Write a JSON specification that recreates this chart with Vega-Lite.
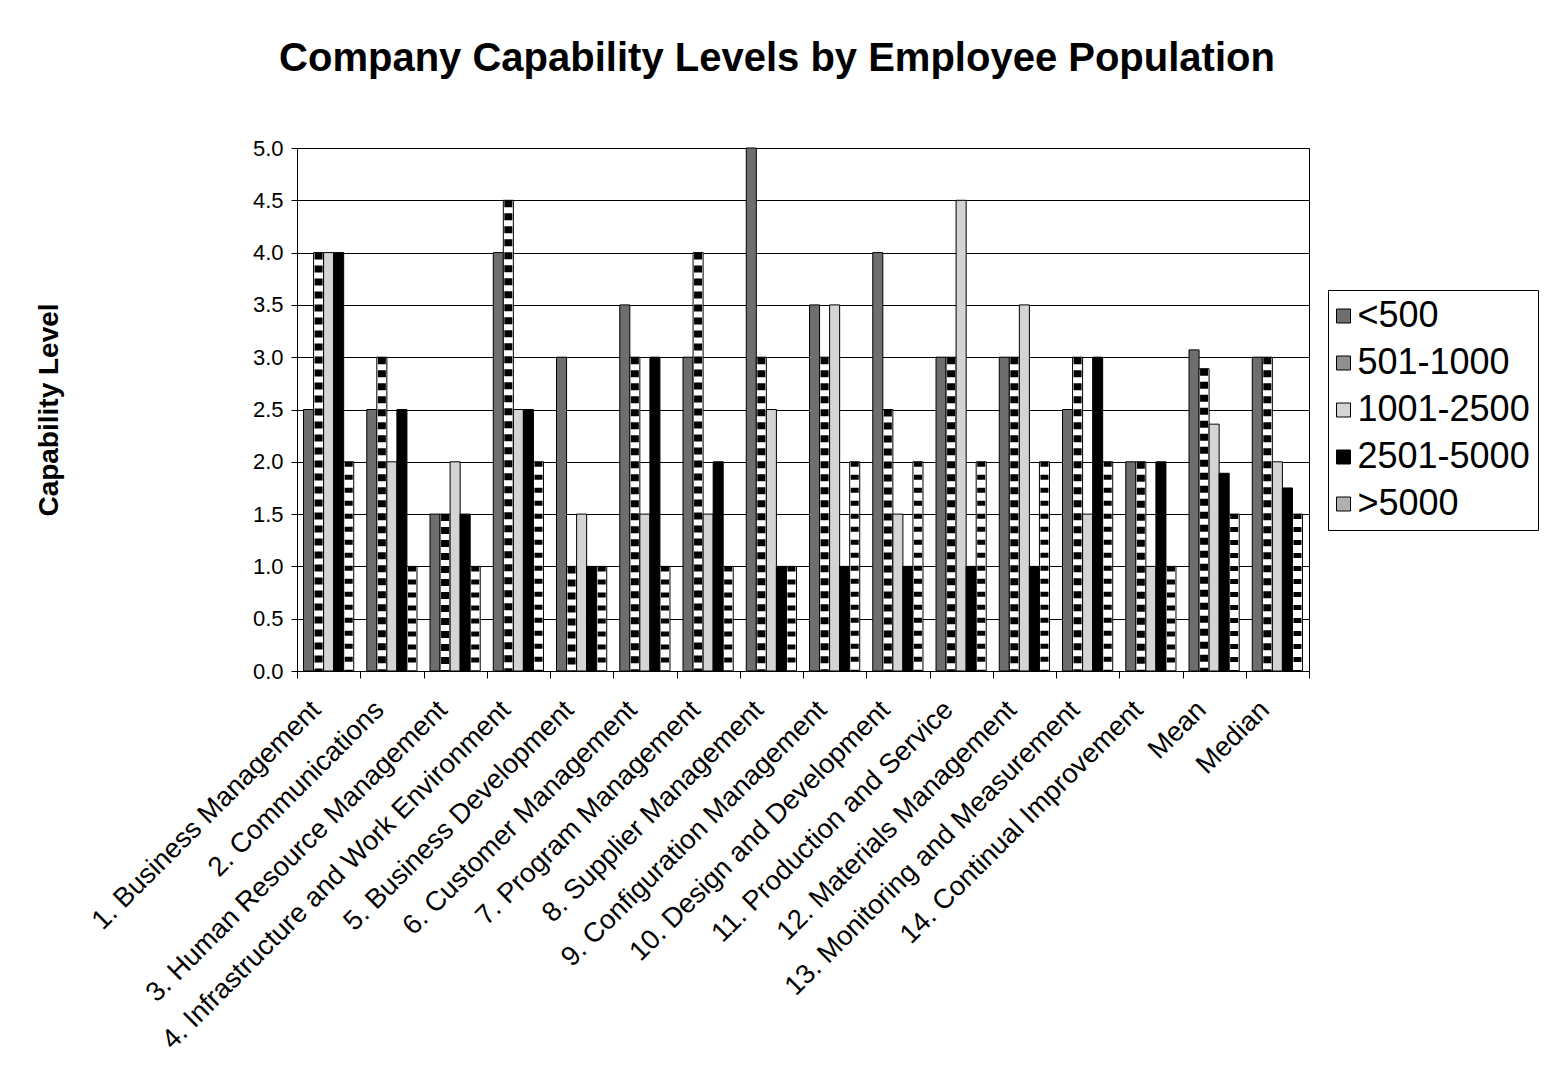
{
  "$schema": "https://vega.github.io/schema/vega-lite/v6.json",
  "width": 1012,
  "height": 523,
  "autosize": {"type": "none"},
  "padding": {"left": 297, "top": 148, "right": 243, "bottom": 401},
  "background": "white",
  "title": {
    "text": "Company Capability Levels by Employee Population",
    "font": "Liberation Sans",
    "fontSize": 40,
    "fontWeight": "bold",
    "color": "black",
    "anchor": "middle",
    "dx": -26,
    "offset": 58
  },
  "data": {
    "values": [
      {"area": "1. Business Management", "size": "<500", "level": 2.5},
      {"area": "1. Business Management", "size": "501-1000", "level": 4.0},
      {"area": "1. Business Management", "size": "1001-2500", "level": 4.0},
      {"area": "1. Business Management", "size": "2501-5000", "level": 4.0},
      {"area": "1. Business Management", "size": ">5000", "level": 2.0},
      {"area": "2. Communications", "size": "<500", "level": 2.5},
      {"area": "2. Communications", "size": "501-1000", "level": 3.0},
      {"area": "2. Communications", "size": "1001-2500", "level": 2.0},
      {"area": "2. Communications", "size": "2501-5000", "level": 2.5},
      {"area": "2. Communications", "size": ">5000", "level": 1.0},
      {"area": "3. Human Resource Management", "size": "<500", "level": 1.5},
      {"area": "3. Human Resource Management", "size": "501-1000", "level": 1.5},
      {"area": "3. Human Resource Management", "size": "1001-2500", "level": 2.0},
      {"area": "3. Human Resource Management", "size": "2501-5000", "level": 1.5},
      {"area": "3. Human Resource Management", "size": ">5000", "level": 1.0},
      {"area": "4. Infrastructure and Work Environment", "size": "<500", "level": 4.0},
      {"area": "4. Infrastructure and Work Environment", "size": "501-1000", "level": 4.5},
      {"area": "4. Infrastructure and Work Environment", "size": "1001-2500", "level": 2.5},
      {"area": "4. Infrastructure and Work Environment", "size": "2501-5000", "level": 2.5},
      {"area": "4. Infrastructure and Work Environment", "size": ">5000", "level": 2.0},
      {"area": "5. Business Development", "size": "<500", "level": 3.0},
      {"area": "5. Business Development", "size": "501-1000", "level": 1.0},
      {"area": "5. Business Development", "size": "1001-2500", "level": 1.5},
      {"area": "5. Business Development", "size": "2501-5000", "level": 1.0},
      {"area": "5. Business Development", "size": ">5000", "level": 1.0},
      {"area": "6. Customer Management", "size": "<500", "level": 3.5},
      {"area": "6. Customer Management", "size": "501-1000", "level": 3.0},
      {"area": "6. Customer Management", "size": "1001-2500", "level": 1.5},
      {"area": "6. Customer Management", "size": "2501-5000", "level": 3.0},
      {"area": "6. Customer Management", "size": ">5000", "level": 1.0},
      {"area": "7. Program Management", "size": "<500", "level": 3.0},
      {"area": "7. Program Management", "size": "501-1000", "level": 4.0},
      {"area": "7. Program Management", "size": "1001-2500", "level": 1.5},
      {"area": "7. Program Management", "size": "2501-5000", "level": 2.0},
      {"area": "7. Program Management", "size": ">5000", "level": 1.0},
      {"area": "8. Supplier Management", "size": "<500", "level": 5.0},
      {"area": "8. Supplier Management", "size": "501-1000", "level": 3.0},
      {"area": "8. Supplier Management", "size": "1001-2500", "level": 2.5},
      {"area": "8. Supplier Management", "size": "2501-5000", "level": 1.0},
      {"area": "8. Supplier Management", "size": ">5000", "level": 1.0},
      {"area": "9. Configuration Management", "size": "<500", "level": 3.5},
      {"area": "9. Configuration Management", "size": "501-1000", "level": 3.0},
      {"area": "9. Configuration Management", "size": "1001-2500", "level": 3.5},
      {"area": "9. Configuration Management", "size": "2501-5000", "level": 1.0},
      {"area": "9. Configuration Management", "size": ">5000", "level": 2.0},
      {"area": "10. Design and Development", "size": "<500", "level": 4.0},
      {"area": "10. Design and Development", "size": "501-1000", "level": 2.5},
      {"area": "10. Design and Development", "size": "1001-2500", "level": 1.5},
      {"area": "10. Design and Development", "size": "2501-5000", "level": 1.0},
      {"area": "10. Design and Development", "size": ">5000", "level": 2.0},
      {"area": "11. Production and Service", "size": "<500", "level": 3.0},
      {"area": "11. Production and Service", "size": "501-1000", "level": 3.0},
      {"area": "11. Production and Service", "size": "1001-2500", "level": 4.5},
      {"area": "11. Production and Service", "size": "2501-5000", "level": 1.0},
      {"area": "11. Production and Service", "size": ">5000", "level": 2.0},
      {"area": "12. Materials Management", "size": "<500", "level": 3.0},
      {"area": "12. Materials Management", "size": "501-1000", "level": 3.0},
      {"area": "12. Materials Management", "size": "1001-2500", "level": 3.5},
      {"area": "12. Materials Management", "size": "2501-5000", "level": 1.0},
      {"area": "12. Materials Management", "size": ">5000", "level": 2.0},
      {"area": "13. Monitoring and Measurement", "size": "<500", "level": 2.5},
      {"area": "13. Monitoring and Measurement", "size": "501-1000", "level": 3.0},
      {"area": "13. Monitoring and Measurement", "size": "1001-2500", "level": 1.5},
      {"area": "13. Monitoring and Measurement", "size": "2501-5000", "level": 3.0},
      {"area": "13. Monitoring and Measurement", "size": ">5000", "level": 2.0},
      {"area": "14. Continual Improvement", "size": "<500", "level": 2.0},
      {"area": "14. Continual Improvement", "size": "501-1000", "level": 2.0},
      {"area": "14. Continual Improvement", "size": "1001-2500", "level": 1.0},
      {"area": "14. Continual Improvement", "size": "2501-5000", "level": 2.0},
      {"area": "14. Continual Improvement", "size": ">5000", "level": 1.0},
      {"area": "Mean", "size": "<500", "level": 3.07},
      {"area": "Mean", "size": "501-1000", "level": 2.89},
      {"area": "Mean", "size": "1001-2500", "level": 2.36},
      {"area": "Mean", "size": "2501-5000", "level": 1.89},
      {"area": "Mean", "size": ">5000", "level": 1.5},
      {"area": "Median", "size": "<500", "level": 3.0},
      {"area": "Median", "size": "501-1000", "level": 3.0},
      {"area": "Median", "size": "1001-2500", "level": 2.0},
      {"area": "Median", "size": "2501-5000", "level": 1.75},
      {"area": "Median", "size": ">5000", "level": 1.5}
    ]
  },
  "encoding": {
    "x": {
      "field": "area",
      "type": "nominal",
      "sort": null,
      "scale": {"paddingInner": 0, "paddingOuter": 0},
      "axis": {
        "title": null,
        "labelAngle": -45,
        "labelAlign": "right",
        "labelBaseline": "alphabetic",
        "labelFont": "Liberation Sans",
        "labelFontSize": 27.5,
        "labelColor": "black",
        "labelLimit": 1000,
        "labelOverlap": false,
        "labelPadding": 33,
        "labelOffset": -7,
        "tickBand": "extent",
        "tickSize": 7,
        "tickColor": "black",
        "domainColor": "black",
        "grid": false
      }
    },
    "xOffset": {
      "field": "size",
      "type": "nominal",
      "scale": {
        "domain": ["<500", "501-1000", "1001-2500", "2501-5000", ">5000"],
        "paddingInner": 0,
        "paddingOuter": 0.65
      }
    },
    "y": {
      "field": "level",
      "type": "quantitative",
      "scale": {"domain": [0, 5], "nice": false},
      "axis": {
        "title": "Capability Level",
        "titleFont": "Liberation Sans",
        "titleFontSize": 28,
        "titleFontWeight": "bold",
        "titleColor": "black",
        "titlePadding": 189,
        "values": [0, 0.5, 1, 1.5, 2, 2.5, 3, 3.5, 4, 4.5, 5],
        "format": ".1f",
        "labelFont": "Liberation Sans",
        "labelFontSize": 22,
        "labelColor": "black",
        "labelPadding": 8,
        "tickSize": 6,
        "tickColor": "black",
        "domainColor": "black",
        "grid": true,
        "gridColor": "black",
        "gridWidth": 1
      }
    }
  },
  "layer": [
    {
      "mark": {"type": "bar", "stroke": "black", "strokeWidth": 1},
      "encoding": {
        "fill": {
          "condition": {"test": "datum.size === '501-1000' || datum.size === '>5000'", "value": "white"},
          "field": "size",
          "type": "nominal",
          "scale": {
            "domain": ["<500", "501-1000", "1001-2500", "2501-5000", ">5000"],
            "range": ["#6e6e6e", "#909090", "#d4d4d4", "#000000", "#b0b0b0"]
          },
          "legend": {
            "title": null,
            "orient": "none",
            "legendX": 1031,
            "legendY": 142,
            "labelFont": "Liberation Sans",
            "labelFontSize": 36,
            "labelColor": "black",
            "labelLimit": 400,
            "symbolType": "square",
            "symbolSize": 196,
            "symbolStrokeColor": "black",
            "symbolStrokeWidth": 1,
            "symbolOpacity": 1,
            "symbolOffset": -10.5,
            "labelOffset": -4,
            "strokeColor": "black",
            "fillColor": "white",
            "padding": 8,
            "rowPadding": 11
          }
        }
      }
    },
    {
      "transform": [{"filter": "datum.size === '501-1000'"}],
      "mark": {"type": "rule", "color": "black", "strokeWidth": 8, "strokeDash": [7, 6], "strokeCap": "butt"},
      "encoding": {"y2": {"datum": 0}}
    },
    {
      "transform": [{"filter": "datum.size === '>5000'"}],
      "mark": {"type": "rule", "color": "black", "strokeWidth": 8, "strokeDash": [5, 8], "strokeCap": "butt"},
      "encoding": {"y2": {"datum": 0}}
    }
  ],
  "config": {
    "font": "Liberation Sans",
    "view": {"stroke": "black", "strokeWidth": 1}
  }
}
